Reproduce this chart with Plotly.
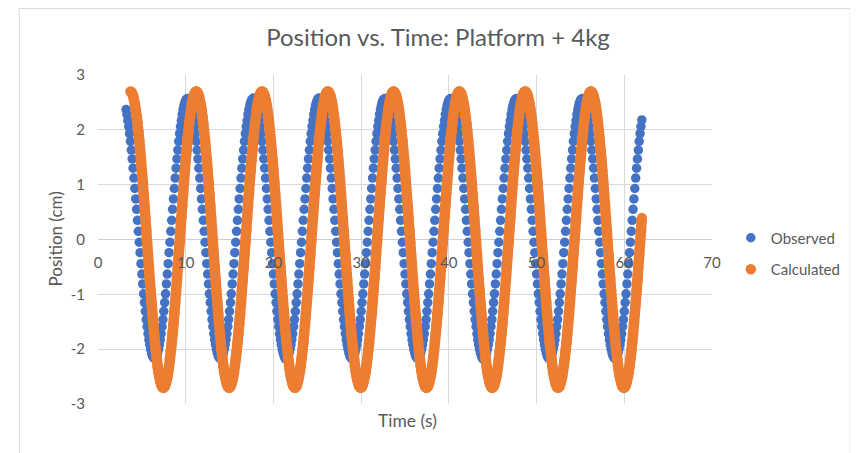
import numpy as np
import plotly.graph_objects as go

# ---- data ----
SERIES_NAMES = ["Observed", "Calculated"]
SAMPLE_DT = 0.1          # s between samples
OBS_T0 = 3.2             # s, first observed sample
CALC_T0 = 3.7            # s, first calculated sample

observed_cm = [
    2.37, 2.28, 2.17, 2.06, 1.93, 1.79, 1.63, 1.47, 1.30, 1.12, 0.93, 0.74, 0.55, 0.35, 0.15, -0.05, -0.24, -0.44, -0.63, -0.81, -0.99, -1.15, -1.31, -1.46, -1.59, -1.72, -1.83, -1.92, -2.00, -2.07, -2.12, -2.15, -2.17, -2.17, -2.15, -2.12, -2.07, -2.00, -1.92, -1.83, -1.72, -1.59, -1.46, -1.31, -1.15, -0.99, -0.81, -0.63, -0.44, -0.24, -0.05, 0.15, 0.35, 0.55, 0.74, 0.93, 1.12, 1.30, 1.47, 1.63, 1.79, 1.93, 2.06, 2.17, 2.28, 2.37, 2.44, 2.50, 2.54, 2.56,
    2.57, 2.56, 2.54, 2.50, 2.44, 2.37, 2.28, 2.17, 2.06, 1.93, 1.79, 1.63, 1.47, 1.30, 1.12, 0.93, 0.74, 0.55, 0.35, 0.15, -0.05, -0.24, -0.44, -0.63, -0.81, -0.99, -1.15, -1.31, -1.46, -1.59, -1.72, -1.83, -1.92, -2.00, -2.07, -2.12, -2.15, -2.17, -2.17, -2.15, -2.12, -2.07, -2.00, -1.92, -1.83, -1.72, -1.59, -1.46, -1.31, -1.15, -0.99, -0.81, -0.63, -0.44, -0.24, -0.05, 0.15, 0.35, 0.55, 0.74, 0.93, 1.12, 1.30, 1.47, 1.63, 1.79, 1.93, 2.06, 2.17, 2.28, 2.37, 2.44, 2.50, 2.54, 2.56,
    2.58, 2.56, 2.54, 2.50, 2.44, 2.37, 2.28, 2.17, 2.06, 1.93, 1.79, 1.63, 1.47, 1.30, 1.12, 0.93, 0.74, 0.55, 0.35, 0.15, -0.05, -0.24, -0.44, -0.63, -0.81, -0.99, -1.15, -1.31, -1.46, -1.59, -1.72, -1.83, -1.92, -2.00, -2.07, -2.12, -2.16, -2.18, -2.17, -2.15, -2.12, -2.07, -2.00, -1.92, -1.83, -1.72, -1.59, -1.46, -1.31, -1.15, -0.99, -0.81, -0.63, -0.44, -0.24, -0.05, 0.15, 0.35, 0.55, 0.74, 0.93, 1.12, 1.30, 1.47, 1.63, 1.79, 1.93, 2.06, 2.17, 2.28, 2.37, 2.44, 2.50, 2.54, 2.57,
    2.58, 2.56, 2.54, 2.50, 2.44, 2.37, 2.28, 2.17, 2.06, 1.93, 1.79, 1.63, 1.47, 1.30, 1.12, 0.93, 0.74, 0.55, 0.35, 0.15, -0.05, -0.24, -0.44, -0.63, -0.81, -0.99, -1.15, -1.31, -1.46, -1.59, -1.72, -1.83, -1.92, -2.00, -2.07, -2.12, -2.15, -2.17, -2.17, -2.15, -2.12, -2.07, -2.00, -1.92, -1.83, -1.72, -1.59, -1.46, -1.31, -1.15, -0.99, -0.81, -0.63, -0.44, -0.24, -0.05, 0.15, 0.35, 0.55, 0.74, 0.93, 1.12, 1.30, 1.47, 1.63, 1.79, 1.93, 2.06, 2.17, 2.28, 2.37, 2.44, 2.50, 2.54, 2.56,
    2.57, 2.56, 2.54, 2.50, 2.44, 2.37, 2.28, 2.17, 2.06, 1.93, 1.79, 1.63, 1.47, 1.30, 1.12, 0.93, 0.74, 0.55, 0.35, 0.15, -0.05, -0.24, -0.44, -0.63, -0.81, -0.99, -1.15, -1.31, -1.46, -1.59, -1.72, -1.83, -1.92, -2.00, -2.07, -2.12, -2.15, -2.17, -2.17, -2.15, -2.12, -2.07, -2.00, -1.92, -1.83, -1.72, -1.59, -1.46, -1.31, -1.15, -0.99, -0.81, -0.63, -0.44, -0.24, -0.05, 0.15, 0.35, 0.55, 0.74, 0.93, 1.12, 1.30, 1.47, 1.63, 1.79, 1.93, 2.06, 2.17, 2.28, 2.37, 2.44, 2.50, 2.54, 2.56,
    2.57, 2.56, 2.54, 2.50, 2.44, 2.37, 2.28, 2.17, 2.06, 1.93, 1.79, 1.63, 1.47, 1.30, 1.12, 0.93, 0.74, 0.55, 0.35, 0.15, -0.05, -0.24, -0.44, -0.63, -0.81, -0.99, -1.15, -1.31, -1.46, -1.59, -1.72, -1.83, -1.92, -2.00, -2.07, -2.12, -2.16, -2.18, -2.18, -2.15, -2.12, -2.07, -2.00, -1.92, -1.83, -1.72, -1.59, -1.46, -1.31, -1.15, -0.99, -0.81, -0.63, -0.44, -0.24, -0.05, 0.15, 0.35, 0.55, 0.74, 0.93, 1.12, 1.30, 1.47, 1.63, 1.79, 1.93, 2.06, 2.17, 2.28, 2.37, 2.44, 2.50, 2.54, 2.56,
    2.57, 2.56, 2.54, 2.50, 2.44, 2.37, 2.28, 2.17, 2.06, 1.93, 1.79, 1.63, 1.47, 1.30, 1.12, 0.93, 0.74, 0.55, 0.35, 0.15, -0.05, -0.24, -0.44, -0.63, -0.81, -0.99, -1.15, -1.31, -1.46, -1.59, -1.72, -1.83, -1.92, -2.00, -2.07, -2.12, -2.15, -2.17, -2.17, -2.15, -2.12, -2.07, -2.00, -1.92, -1.83, -1.72, -1.59, -1.46, -1.31, -1.15, -0.99, -0.81, -0.63, -0.44, -0.24, -0.05, 0.15, 0.35, 0.55, 0.74, 0.93, 1.12, 1.30, 1.47, 1.63, 1.79, 1.93, 2.06, 2.17, 2.28, 2.37, 2.44, 2.50, 2.54, 2.56,
    2.57, 2.56, 2.54, 2.50, 2.44, 2.37, 2.28, 2.17, 2.06, 1.93, 1.79, 1.63, 1.47, 1.30, 1.12, 0.93, 0.74, 0.55, 0.35, 0.15, -0.05, -0.24, -0.44, -0.63, -0.81, -0.99, -1.15, -1.31, -1.46, -1.59, -1.72, -1.83, -1.92, -2.00, -2.07, -2.12, -2.15, -2.17, -2.17, -2.15, -2.12, -2.07, -2.00, -1.92, -1.83, -1.72, -1.59, -1.46, -1.31, -1.15, -0.99, -0.81, -0.63, -0.44, -0.24, -0.05, 0.15, 0.35, 0.55, 0.74, 0.93, 1.12, 1.30, 1.47, 1.63, 1.79, 1.93, 2.06, 2.18,
]

calculated_cm = [
    2.70, 2.69, 2.66, 2.62, 2.55, 2.47, 2.37, 2.25, 2.12, 1.97, 1.81, 1.63, 1.45, 1.25, 1.05, 0.83, 0.62, 0.39, 0.17, -0.06, -0.28, -0.51, -0.73, -0.94, -1.15, -1.35, -1.54, -1.72, -1.89, -2.04, -2.18, -2.31, -2.42, -2.51, -2.58, -2.64, -2.68, -2.70, -2.70, -2.68, -2.64, -2.58, -2.51, -2.42, -2.31, -2.18, -2.04, -1.89, -1.72, -1.54, -1.35, -1.15, -0.94, -0.73, -0.51, -0.28, -0.06, 0.17, 0.39, 0.62, 0.83, 1.05, 1.25, 1.45, 1.63, 1.81, 1.97, 2.12, 2.25, 2.37, 2.47, 2.55, 2.62, 2.66, 2.69,
    2.70, 2.69, 2.66, 2.62, 2.55, 2.47, 2.37, 2.25, 2.12, 1.97, 1.81, 1.63, 1.45, 1.25, 1.05, 0.83, 0.62, 0.39, 0.17, -0.06, -0.28, -0.51, -0.73, -0.94, -1.15, -1.35, -1.54, -1.72, -1.89, -2.04, -2.18, -2.31, -2.42, -2.51, -2.58, -2.64, -2.68, -2.70, -2.70, -2.68, -2.64, -2.58, -2.51, -2.42, -2.31, -2.18, -2.04, -1.89, -1.72, -1.54, -1.35, -1.15, -0.94, -0.73, -0.51, -0.28, -0.06, 0.17, 0.39, 0.62, 0.83, 1.05, 1.25, 1.45, 1.63, 1.81, 1.97, 2.12, 2.25, 2.37, 2.47, 2.55, 2.62, 2.66, 2.69,
    2.70, 2.69, 2.66, 2.62, 2.55, 2.47, 2.37, 2.25, 2.12, 1.97, 1.81, 1.63, 1.45, 1.25, 1.05, 0.83, 0.62, 0.39, 0.17, -0.06, -0.28, -0.51, -0.73, -0.94, -1.15, -1.35, -1.54, -1.72, -1.89, -2.04, -2.18, -2.31, -2.42, -2.51, -2.58, -2.64, -2.68, -2.70, -2.70, -2.68, -2.64, -2.58, -2.51, -2.42, -2.31, -2.18, -2.04, -1.89, -1.72, -1.54, -1.35, -1.15, -0.94, -0.73, -0.51, -0.28, -0.06, 0.17, 0.39, 0.62, 0.83, 1.05, 1.25, 1.45, 1.63, 1.81, 1.97, 2.12, 2.25, 2.37, 2.47, 2.55, 2.62, 2.66, 2.69,
    2.70, 2.69, 2.66, 2.62, 2.55, 2.47, 2.37, 2.25, 2.12, 1.97, 1.81, 1.63, 1.45, 1.25, 1.05, 0.83, 0.62, 0.39, 0.17, -0.06, -0.28, -0.51, -0.73, -0.94, -1.15, -1.35, -1.54, -1.72, -1.89, -2.04, -2.18, -2.31, -2.42, -2.51, -2.58, -2.64, -2.68, -2.70, -2.70, -2.68, -2.64, -2.58, -2.51, -2.42, -2.31, -2.18, -2.04, -1.89, -1.72, -1.54, -1.35, -1.15, -0.94, -0.73, -0.51, -0.28, -0.06, 0.17, 0.39, 0.62, 0.83, 1.05, 1.25, 1.45, 1.63, 1.81, 1.97, 2.12, 2.25, 2.37, 2.47, 2.55, 2.62, 2.66, 2.69,
    2.70, 2.69, 2.66, 2.62, 2.55, 2.47, 2.37, 2.25, 2.12, 1.97, 1.81, 1.63, 1.45, 1.25, 1.05, 0.83, 0.62, 0.39, 0.17, -0.06, -0.28, -0.51, -0.73, -0.94, -1.15, -1.35, -1.54, -1.72, -1.89, -2.04, -2.18, -2.31, -2.42, -2.51, -2.58, -2.64, -2.68, -2.70, -2.70, -2.68, -2.64, -2.58, -2.51, -2.42, -2.31, -2.18, -2.04, -1.89, -1.72, -1.54, -1.35, -1.15, -0.94, -0.73, -0.51, -0.28, -0.06, 0.17, 0.39, 0.62, 0.83, 1.05, 1.25, 1.45, 1.63, 1.81, 1.97, 2.12, 2.25, 2.37, 2.47, 2.55, 2.62, 2.66, 2.69,
    2.70, 2.69, 2.66, 2.62, 2.55, 2.47, 2.37, 2.25, 2.12, 1.97, 1.81, 1.63, 1.45, 1.25, 1.05, 0.83, 0.62, 0.39, 0.17, -0.06, -0.28, -0.51, -0.73, -0.94, -1.15, -1.35, -1.54, -1.72, -1.89, -2.04, -2.18, -2.31, -2.42, -2.51, -2.58, -2.64, -2.68, -2.70, -2.70, -2.68, -2.64, -2.58, -2.51, -2.42, -2.31, -2.18, -2.04, -1.89, -1.72, -1.54, -1.35, -1.15, -0.94, -0.73, -0.51, -0.28, -0.06, 0.17, 0.39, 0.62, 0.83, 1.05, 1.25, 1.45, 1.63, 1.81, 1.97, 2.12, 2.25, 2.37, 2.47, 2.55, 2.62, 2.66, 2.69,
    2.70, 2.69, 2.66, 2.62, 2.55, 2.47, 2.37, 2.25, 2.12, 1.97, 1.81, 1.63, 1.45, 1.25, 1.05, 0.83, 0.62, 0.39, 0.17, -0.06, -0.28, -0.51, -0.73, -0.94, -1.15, -1.35, -1.54, -1.72, -1.89, -2.04, -2.18, -2.31, -2.42, -2.51, -2.58, -2.64, -2.68, -2.70, -2.70, -2.68, -2.64, -2.58, -2.51, -2.42, -2.31, -2.18, -2.04, -1.89, -1.72, -1.54, -1.35, -1.15, -0.94, -0.73, -0.51, -0.28, -0.06, 0.17, 0.39, 0.62, 0.83, 1.05, 1.25, 1.45, 1.63, 1.81, 1.97, 2.12, 2.25, 2.37, 2.47, 2.55, 2.62, 2.66, 2.69,
    2.70, 2.69, 2.66, 2.62, 2.55, 2.47, 2.37, 2.25, 2.12, 1.97, 1.81, 1.63, 1.45, 1.25, 1.05, 0.83, 0.62, 0.39, 0.17, -0.06, -0.28, -0.51, -0.73, -0.94, -1.15, -1.35, -1.54, -1.72, -1.89, -2.04, -2.18, -2.31, -2.42, -2.51, -2.58, -2.64, -2.68, -2.70, -2.70, -2.68, -2.64, -2.58, -2.51, -2.42, -2.31, -2.18, -2.04, -1.89, -1.72, -1.54, -1.35, -1.15, -0.94, -0.73, -0.51, -0.28, -0.06, 0.17, 0.39,
]

X_TICKS = [0, 10, 20, 30, 40, 50, 60, 70]
Y_TICKS = [-3, -2, -1, 0, 1, 2, 3]
Y_TICK_TEXT = ["-3", "-2", "-1", "0", "1", "2", "3"]

# sample clock (time stamps of the recorded / computed samples)
obs_t = np.round(OBS_T0 + SAMPLE_DT * np.arange(len(observed_cm)), 2)
calc_t = np.round(CALC_T0 + SAMPLE_DT * np.arange(len(calculated_cm)), 2)

BLUE = "#4472C4"
ORANGE = "#ED7D31"
TXT = "#595959"
GRID = "#D9D9D9"
FONT = "Lato"

OFF = 8                      # page offset of the figure (body margin)
W, H = 858 - OFF, 453 - OFF
PLOT_L, PLOT_R, PLOT_T, PLOT_B = 98, 718, 75, 404   # target page pixels
L, T = PLOT_L - OFF, PLOT_T - OFF
R = W - (PLOT_R - OFF)
B = H - (PLOT_B - OFF)
PW, PH = PLOT_R - PLOT_L, PLOT_B - PLOT_T

def px_to_paper_x(px):
    return (px - PLOT_L) / PW

def px_to_paper_y(py):
    return (PLOT_B - py) / PH

fig = go.Figure()
fig.add_trace(go.Scatter(
    x=obs_t, y=observed_cm, mode="markers", name=SERIES_NAMES[0],
    legendgroup="a",
    marker=dict(color=BLUE, size=9.5, line=dict(width=0)),
))
fig.add_trace(go.Scatter(
    x=calc_t, y=calculated_cm, mode="lines", showlegend=False,
    legendgroup="b", hoverinfo="skip",
    line=dict(color=ORANGE, width=10.5, shape="spline"),
))
fig.add_trace(go.Scatter(
    x=calc_t, y=calculated_cm, mode="markers", name=SERIES_NAMES[1],
    legendgroup="b",
    marker=dict(color=ORANGE, size=10.5, line=dict(width=0)),
))

fig.update_layout(
    width=W, height=H,
    margin=dict(l=L, r=R, t=T, b=B, pad=0),
    paper_bgcolor="white", plot_bgcolor="white",
    font=dict(family=FONT, color=TXT, size=15),
    title=dict(text="Position vs. Time: Platform + 4kg", x=(438 - OFF) / W, xref="container",
               xanchor="center", y=1 - (38 - OFF) / H, yref="container", yanchor="middle",
               font=dict(family=FONT, size=24, color=TXT)),
    showlegend=True,
    legend=dict(x=px_to_paper_x(737), xanchor="left", y=px_to_paper_y(253.5), yanchor="middle",
                font=dict(family=FONT, size=15, color=TXT), tracegroupgap=9,
                bgcolor="rgba(0,0,0,0)", itemwidth=30),
    xaxis=dict(range=[0, 70], tickvals=X_TICKS, showgrid=True, gridcolor=GRID, gridwidth=1,
               zeroline=False, showline=False, anchor="free", position=0.5,
               ticks="", ticklabelstandoff=12, tickfont=dict(family=FONT, size=15, color=TXT)),
    yaxis=dict(range=[-3, 3], tickvals=Y_TICKS, ticktext=Y_TICK_TEXT, showgrid=True,
               gridcolor=GRID, gridwidth=1,
               zeroline=True, zerolinecolor="#CFCFCF", zerolinewidth=1, showline=False,
               ticks="", ticklabelstandoff=12, tickfont=dict(family=FONT, size=15, color=TXT)),
    annotations=[
        dict(text="Time (s)", x=px_to_paper_x(411), y=px_to_paper_y(420), xref="paper", yref="paper",
             xanchor="center", yanchor="middle", showarrow=False,
             font=dict(family=FONT, size=17.5, color=TXT)),
        dict(text="Position (cm)", x=px_to_paper_x(55), y=px_to_paper_y(239), xref="paper", yref="paper",
             xanchor="center", yanchor="middle", showarrow=False, textangle=-90,
             font=dict(family=FONT, size=17, color=TXT)),
    ],
    shapes=[
        dict(type="rect", xref="paper", yref="paper",
             x0=px_to_paper_x(18.5), x1=px_to_paper_x(857.5),
             y0=px_to_paper_y(470), y1=px_to_paper_y(OFF + 0.5),
             line=dict(color="#D9D9D9", width=1), fillcolor="rgba(0,0,0,0)", layer="below"),
    ],
)

fig.write_html("out.html")
